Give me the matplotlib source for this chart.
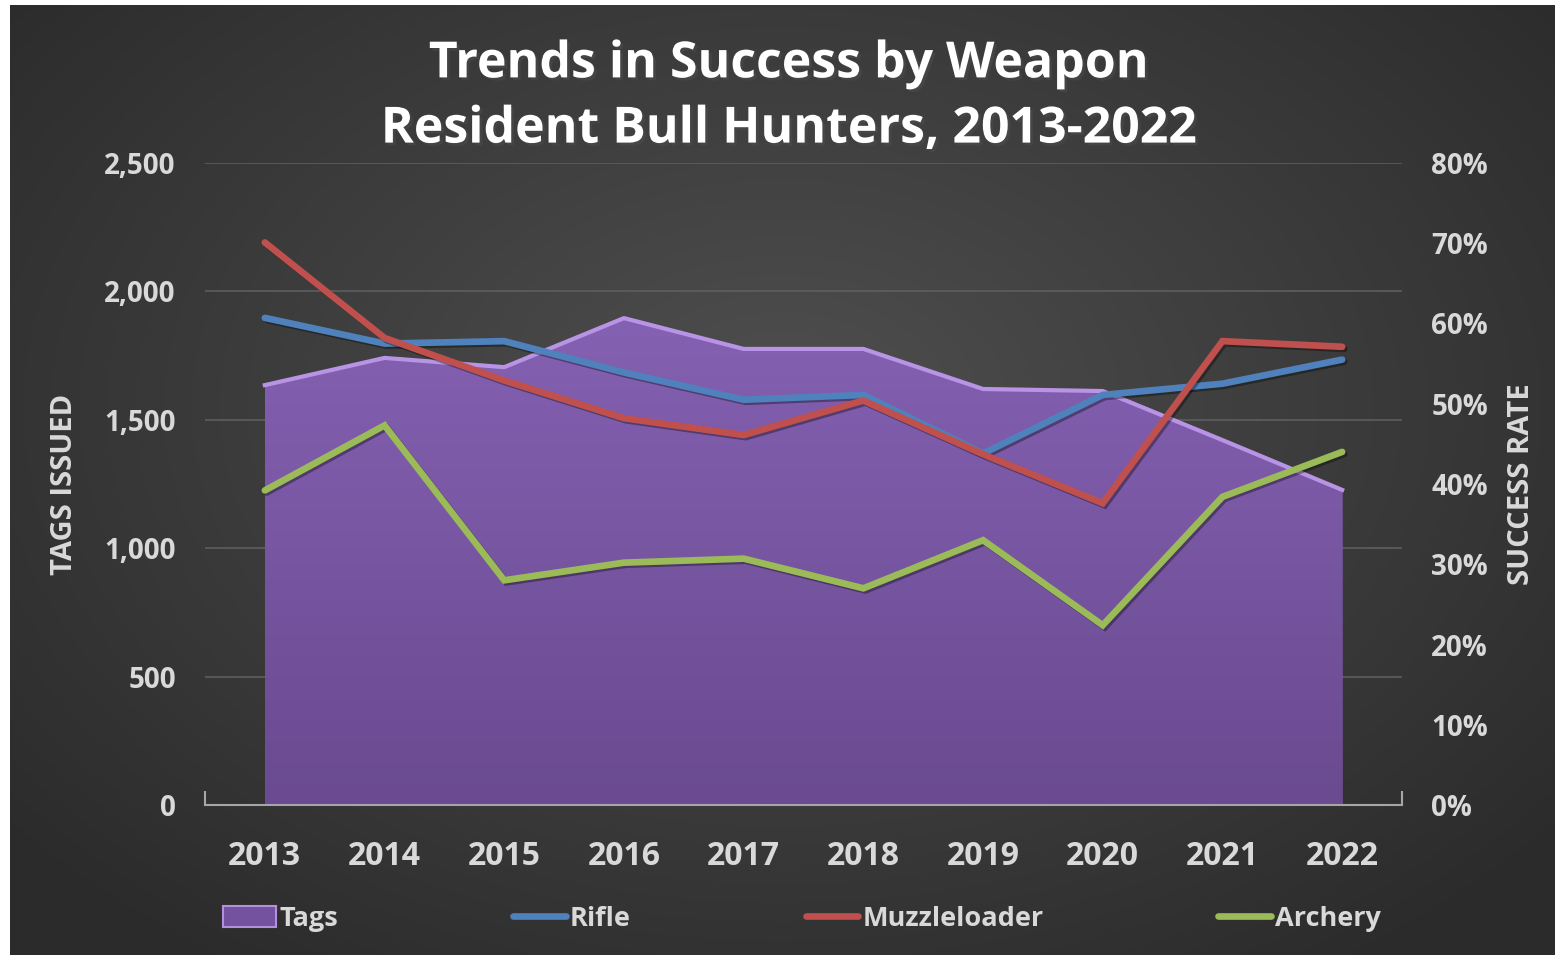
import matplotlib
matplotlib.use("Agg")
import matplotlib.pyplot as plt
import matplotlib.patheffects as pe
from matplotlib.patches import Patch
from matplotlib.lines import Line2D
from matplotlib.ticker import FuncFormatter, PercentFormatter
import numpy as np

years = ["2013", "2014", "2015", "2016", "2017", "2018", "2019", "2020", "2021", "2022"]
tags = [1635, 1741, 1705, 1896, 1776, 1776, 1620, 1612, 1421, 1227]
rifle = [0.607, 0.575, 0.578, 0.539, 0.505, 0.511, 0.438, 0.511, 0.525, 0.555]
muzzleloader = [0.701, 0.582, 0.529, 0.482, 0.461, 0.504, 0.437, 0.376, 0.578, 0.571]
archery = [0.392, 0.473, 0.280, 0.302, 0.307, 0.270, 0.330, 0.224, 0.384, 0.440]

plt.rcParams["font.family"] = ["Open Sans", "DejaVu Sans"]
plt.rcParams["font.weight"] = "bold"
plt.rcParams["axes.labelweight"] = "bold"

W, H = 1555, 955
fig = plt.figure(figsize=(W / 100, H / 100), dpi=100, facecolor="white")

# dark background with a lighter centre
bg = fig.add_axes([10 / W, 0, 1 - 10 / W, 1 - 5 / H])
bg.set_axis_off()
gx, gy = np.meshgrid(np.linspace(-1, 1, 400), np.linspace(-1, 1, 250))
r = np.sqrt((gx / 1.0) ** 2 + ((gy + 0.15) / 1.1) ** 2)
shade = 0.31 - 0.14 * np.clip(r, 0, 1.3) / 1.3
bg.imshow(np.dstack([shade] * 3), aspect="auto", extent=[0, 1, 0, 1],
          interpolation="bicubic")
bg.set_xlim(0, 1)
bg.set_ylim(0, 1)

ax = fig.add_axes([205 / W, 1 - 805 / H, (1402 - 205) / W, (805 - 163) / H])
ax.patch.set_alpha(0)
x = np.arange(len(years))

# tags area with vertical purple gradient
poly = ax.fill_between(x, 0, tags, color="#7d5aab", lw=0, zorder=2)
grad = np.linspace(0, 1, 256).reshape(-1, 1)
cmap = matplotlib.colors.LinearSegmentedColormap.from_list("pur", ["#6a4a90", "#8461b2"])
img = ax.imshow(grad, cmap=cmap, aspect="auto", extent=[0, 9, 0, max(tags)],
                origin="lower", zorder=3)
img.set_clip_path(poly.get_paths()[0], transform=ax.transData)
ax.plot(x, tags, color="#b994e6", lw=3, zorder=4)

ax.set_xlim(-0.5, 9.5)
ax.set_ylim(0, 2500)
ax.set_yticks(range(0, 2501, 500))
ax.yaxis.set_major_formatter(FuncFormatter(lambda v, p: f"{int(v):,}"))
ax.grid(axis="y", color="#5e5e5e", lw=1.2, zorder=0)
ax.set_xticks(x)
ax.set_xticklabels(years)
ax.set_xticks(np.arange(-0.5, 10, 1), minor=True)
ax.tick_params(axis="x", which="major", length=0, pad=25, labelsize=23, labelcolor="#d9d9d9")
ax.tick_params(axis="x", which="minor", direction="in", length=10, width=1.5, color="#a6a6a6")
ax.tick_params(axis="y", length=0, pad=21, labelsize=20, labelcolor="#d9d9d9")
for s in ["top", "right", "left"]:
    ax.spines[s].set_visible(False)
ax.spines["bottom"].set_color("#a6a6a6")
ax.spines["bottom"].set_linewidth(1.5)
ax.spines["bottom"].set_zorder(5)
ax.set_ylabel("TAGS ISSUED", fontsize=21, color="#d9d9d9", labelpad=18)

ax2 = ax.twinx()
ax2.set_ylim(0, 0.8)
ax2.set_yticks(np.arange(0, 0.81, 0.1))
ax2.yaxis.set_major_formatter(PercentFormatter(1.0, decimals=0))
ax2.tick_params(axis="y", length=0, pad=21, labelsize=20, labelcolor="#d9d9d9")
for s in ax2.spines.values():
    s.set_visible(False)
ax2.set_ylabel("SUCCESS RATE", fontsize=21, color="#d9d9d9", labelpad=14)

shadow = [pe.SimpleLineShadow(offset=(1.5, -1.5), alpha=0.35), pe.Normal()]
colors = {"Rifle": "#4f81bd", "Muzzleloader": "#c0504d", "Archery": "#9bbb59"}
for name, vals in [("Rifle", rifle), ("Muzzleloader", muzzleloader), ("Archery", archery)]:
    ax2.plot(x, vals, color=colors[name], lw=4.8, solid_capstyle="round",
             solid_joinstyle="miter", path_effects=shadow, zorder=5)

fig.text(789 / W, 1 - 97 / H, "Trends in Success by Weapon\nResident Bull Hunters, 2013-2022",
         ha="center", va="center", fontsize=36, color="white", linespacing=1.4,
         path_effects=[pe.withSimplePatchShadow(offset=(2, -2), alpha=0.5)])

handles = [Patch(facecolor="#7352a0", edgecolor="#b48fe0", lw=1.5)]
for name in ["Rifle", "Muzzleloader", "Archery"]:
    handles.append(Line2D([], [], color=colors[name], lw=4.8, solid_capstyle="round"))
leg = fig.legend(handles, ["Tags", "Rifle", "Muzzleloader", "Archery"], ncol=4,
                 loc="center", bbox_to_anchor=(802 / W, 1 - 919 / H), frameon=False,
                 fontsize=19.5, labelcolor="#d9d9d9", handlelength=1.95, handleheight=0.8,
                 handletextpad=0.15, columnspacing=6.45)

fig.savefig("out.png", dpi=100, facecolor="white")
